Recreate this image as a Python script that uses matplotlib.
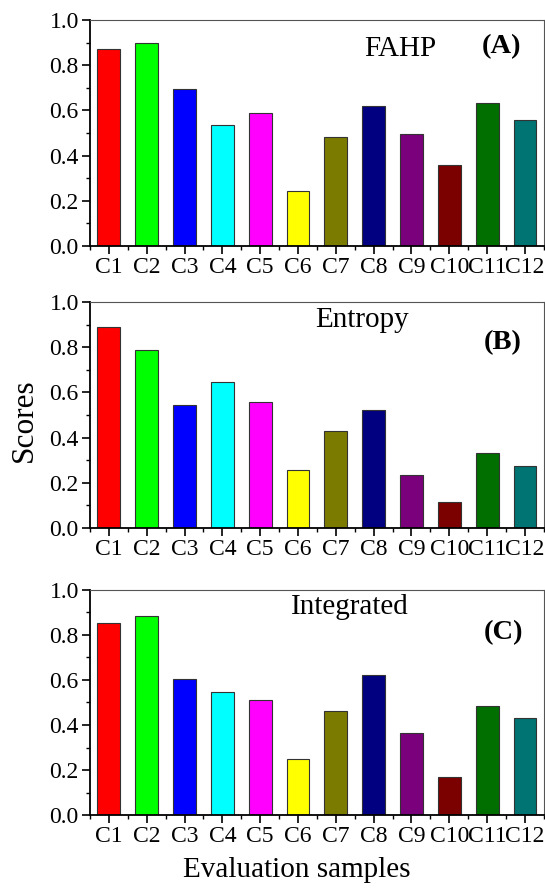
import numpy as np
import matplotlib
matplotlib.use('Agg')
import matplotlib.pyplot as plt
from matplotlib.ticker import MultipleLocator

plt.rcParams['font.family'] = ['Liberation Serif', 'DejaVu Serif']

# 데이터
samples = ['C1', 'C2', 'C3', 'C4', 'C5', 'C6', 'C7', 'C8', 'C9', 'C10', 'C11', 'C12']
fahp = [0.870, 0.900, 0.693, 0.534, 0.590, 0.242, 0.481, 0.619, 0.494, 0.358, 0.634, 0.556]
entropy = [0.891, 0.789, 0.545, 0.648, 0.557, 0.256, 0.427, 0.520, 0.233, 0.115, 0.332, 0.273]
integrated = [0.853, 0.886, 0.605, 0.547, 0.513, 0.251, 0.463, 0.624, 0.366, 0.168, 0.485, 0.429]

colors = ['#FF0000', '#00FF00', '#0000FF', '#00FFFF', '#FF00FF', '#FFFF00',
          '#7B7B00', '#000080', '#7B007B', '#7B0000', '#006F00', '#007373']

panels = [
    (fahp, 'FAHP', (0.683, 0.872), '(A)', (0.907, 0.88), [0.165, 0.723, 0.833, 0.2545]),
    (entropy, 'Entropy', (0.60, 0.92), '(B)', (0.91, 0.82), [0.165, 0.4054, 0.833, 0.2546]),
    (integrated, 'Integrated', (0.573, 0.924), '(C)', (0.91, 0.81), [0.165, 0.0822, 0.833, 0.2534]),
]

fig = plt.figure(figsize=(5.45, 8.88), dpi=100)
x = np.arange(1, len(samples) + 1)

for vals, name, npos, tag, tpos, rect in panels:
    ax = fig.add_axes(rect)
    ax.bar(x, vals, width=0.6, color=colors, edgecolor='#333333', linewidth=0.8)
    ax.set_xlim(0.5, 12.5)
    ax.set_ylim(0, 1.0)
    ax.set_xticks(x)
    ax.set_xticklabels(samples, fontsize=17)
    ax.xaxis.set_minor_locator(MultipleLocator(0.5))
    ax.yaxis.set_major_locator(MultipleLocator(0.2))
    ax.yaxis.set_minor_locator(MultipleLocator(0.1))
    ax.set_yticklabels([f'{v:.1f}' for v in ax.get_yticks()], fontsize=17)
    ax.tick_params(which='major', direction='out', length=6, width=1.2, pad=2)
    ax.tick_params(which='minor', direction='out', length=3, width=1.0)
    for s in ['left', 'bottom']:
        ax.spines[s].set_linewidth(1.3)
    for s in ['top', 'right']:
        ax.spines[s].set_linewidth(0.8)
        ax.spines[s].set_color('#555555')
    ax.text(npos[0], npos[1], name, transform=ax.transAxes, fontsize=21,
            ha='center', va='center')
    ax.text(tpos[0], tpos[1], tag, transform=ax.transAxes, fontsize=20.5,
            fontweight='bold', ha='center', va='center')

fig.text(0.045, 0.527, 'Scores', rotation=90, fontsize=22.5, ha='center', va='center')
fig.text(0.545, 0.02, 'Evaluation samples', fontsize=21, ha='center', va='center')

fig.savefig('out.png', dpi=100)
